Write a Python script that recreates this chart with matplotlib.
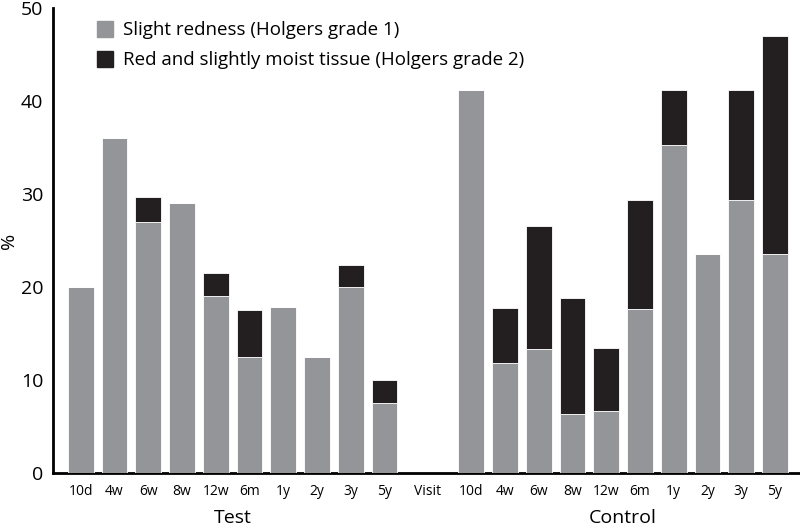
import matplotlib as mpl
mpl.use('agg')
import matplotlib.pyplot as plt
import numpy as np

plt.rcParams['font.family'] = ['Open Sans', 'DejaVu Sans']

# visit labels for each group
visits = ['10d', '4w', '6w', '8w', '12w', '6m', '1y', '2y', '3y', '5y']

# Test group (%): grade 1 and grade 2 (stacked)
test_grade1 = [20.0, 36.0, 27.0, 29.0, 19.0, 12.5, 17.9, 12.5, 20.0, 7.5]
test_grade2 = [0.0, 0.0, 2.7, 0.0, 2.5, 5.0, 0.0, 0.0, 2.4, 2.5]

# Control group (%)
ctrl_grade1 = [41.2, 11.8, 13.3, 6.3, 6.7, 17.6, 35.3, 23.5, 29.4, 23.5]
ctrl_grade2 = [0.0, 5.9, 13.3, 12.5, 6.7, 11.8, 5.9, 0.0, 11.8, 23.5]

legend_labels = ['Slight redness (Holgers grade 1)',
                 'Red and slightly moist tissue (Holgers grade 2)']
group_labels = ['Test', 'Control']

GRAY = '#939598'
BLACK = '#231f20'


def main():
    fig = plt.figure(figsize=(8, 5.26), dpi=100)
    ax = fig.add_axes([0.066, 0.1008, 0.934, 0.8840])

    n = len(visits)
    x_test = np.arange(n)
    x_visit = n - 1 + 1.28
    x_ctrl = x_visit + 1.29 + np.arange(n)

    kw = dict(width=0.76, edgecolor='white', linewidth=0.6, zorder=3)
    for xs, g1, g2 in [(x_test, test_grade1, test_grade2),
                       (x_ctrl, ctrl_grade1, ctrl_grade2)]:
        ax.bar(xs, g1, color=GRAY, **kw)
        ax.bar(xs, g2, bottom=g1, color=BLACK, **kw)

    # legend proxies
    h1 = plt.Rectangle((0, 0), 1, 1, color=GRAY)
    h2 = plt.Rectangle((0, 0), 1, 1, color=BLACK)
    ax.legend([h1, h2], legend_labels, loc='upper left',
              bbox_to_anchor=(0.036, 1.008), frameon=False, fontsize=13.5,
              handlelength=0.9, handleheight=0.9, handletextpad=0.5,
              labelspacing=0.62)

    ax.set_xlim(-0.83, x_ctrl[-1] + 0.74)
    ax.set_ylim(0, 50)
    ax.set_yticks(range(0, 51, 10))
    ax.tick_params(axis='y', length=0, labelsize=14, pad=7)
    ax.tick_params(axis='x', length=0, labelsize=10, pad=8)

    ticks = list(x_test) + [x_visit] + list(x_ctrl)
    ax.set_xticks(ticks)
    ax.set_xticklabels(visits + ['Visit'] + visits)

    for side in ['top', 'right']:
        ax.spines[side].set_visible(False)
    ax.spines['left'].set_linewidth(2)
    ax.spines['bottom'].set_linewidth(2)
    ax.spines['bottom'].set_zorder(2)

    ax.set_ylabel('%', fontsize=14, labelpad=2)

    ax.text(np.mean(x_test), -0.078, group_labels[0], fontsize=14,
            ha='center', va='top', transform=ax.get_xaxis_transform())
    ax.text(np.mean(x_ctrl), -0.078, group_labels[1], fontsize=14,
            ha='center', va='top', transform=ax.get_xaxis_transform())

    fig.savefig('out.png', dpi=100)


if __name__ == '__main__':
    main()
